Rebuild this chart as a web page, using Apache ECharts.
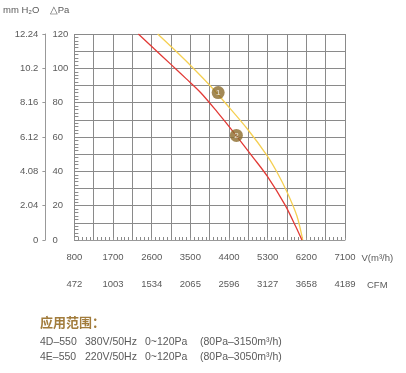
<!DOCTYPE html>
<html>
<head>
<meta charset="utf-8">
<script src="https://cdn.jsdelivr.net/npm/echarts@6/dist/echarts.min.js"></script>
<style>
html,body{margin:0;padding:0;background:#fff;}
#chart{width:406px;height:373px;}
</style>
</head>
<body>
<div id="chart"></div>
<script>
// ---- data ----
var vTickLabels = ['800','1700','2600','3500','4400','5300','6200','7100'];
var cfmTickLabels = ['472','1003','1534','2065','2596','3127','3658','4189'];
var paTickLabels = ['0','20','40','60','80','100','120'];
var mmTickLabels = ['0','2.04','4.08','6.12','8.16','10.2','12.24'];

var curve1V = [2739, 3100, 3510, 3955, 4360, 4823, 5286, 5518, 5750, 5981, 6116];
var curve1P = [120, 111.5, 101.5, 90, 78.5, 64.8, 49.2, 39.5, 28, 14, 0];
var curve2V = [2289, 2650, 3047, 3400, 3742, 4128, 4513, 4976, 5286, 5710, 5950, 6097];
var curve2P = [120, 111.5, 102.3, 94, 85.8, 74.5, 62.6, 47.6, 37.3, 20.2, 8, 0];

var markerV = [4147, 4571];
var markerP = [85.9, 60.9];
var markerText = ['1', '2'];

var noteTitle = '应用范围：';
var noteLines = [
  ['4D–550', '380V/50Hz', '0~120Pa', '(80Pa–3150m³/h)'],
  ['4E–550', '220V/50Hz', '0~120Pa', '(80Pa–3050m³/h)']
];

// ---- chart ----
var FONT = 'Liberation Sans';
var TXT = '#5a5a5a';
var GRID = '#8a8a8a';

function pairs(xs, ys){ return xs.map(function(x,i){ return [x, ys[i]]; }); }

var chart = echarts.init(document.getElementById('chart'), null, {renderer:'canvas'});

var graphics = [{
  type:'text', left: 40, top: 316,
  style:{ text: noteTitle, font: 'bold 13px "Noto Sans CJK SC"', fill:'#a27c3c' }
}];
var colX = [40, 85, 145, 200];
noteLines.forEach(function(parts, r){
  parts.forEach(function(p, c){
    graphics.push({
      type:'text', left: colX[c], top: 336.5 + r*15,
      style:{ text: p, font: '10.5px "Liberation Sans"', fill: TXT }
    });
  });
});

var option = {
  animation:false,
  grid:{ left:73, right:61, top:34, bottom:133, containLabel:false },
  xAxis:[{
    type:'value', min:800, max:7100, interval:450, position:'bottom',
    axisLine:{ show:false },
    axisTick:{ show:true, inside:true, length:3, lineStyle:{ color:GRID } },
    minorTick:{ show:true, splitNumber:5, length:3, lineStyle:{ color:GRID } },
    splitLine:{ show:true, lineStyle:{ color:GRID, width:1 } },
    axisLabel:{
      margin:12, color:TXT, fontFamily:FONT, fontSize:9.5,
      formatter:function(v, i){ return i % 2 === 0 ? (vTickLabels[i/2] || '') : ''; }
    },
    name:'V(m³/h)', nameLocation:'end', nameGap:15,
    nameTextStyle:{ color:TXT, fontFamily:FONT, fontSize:9.5, verticalAlign:'top', padding:[13,0,0,0] }
  },{
    type:'value', min:800, max:7100, interval:900, position:'bottom', offset:29,
    axisLine:{ show:true, lineStyle:{ color:'#999', width:1 } },
    axisTick:{ show:true, inside:true, length:2, lineStyle:{ color:'#999' } },
    splitLine:{ show:false },
    axisLabel:{
      margin:10, color:TXT, fontFamily:FONT, fontSize:9.5,
      formatter:function(v, i){ return cfmTickLabels[i] || ''; }
    },
    name:'CFM', nameLocation:'end', nameGap:22,
    nameTextStyle:{ color:TXT, fontFamily:FONT, fontSize:9.5, verticalAlign:'top', padding:[40,0,0,0] }
  }],
  yAxis:[{
    type:'value', min:0, max:120, interval:10, position:'left',
    axisLine:{ show:false },
    axisTick:{ show:true, inside:true, length:4, lineStyle:{ color:GRID } },
    minorTick:{ show:true, splitNumber:5, length:4, lineStyle:{ color:GRID } },
    splitLine:{ show:true, lineStyle:{ color:GRID, width:1 } },
    axisLabel:{
      margin:22, align:'left', color:TXT, fontFamily:FONT, fontSize:9.5,
      formatter:function(v, i){ return i % 2 === 0 ? (paTickLabels[i/2] || '') : ''; }
    },
    name:'△Pa', nameLocation:'end', nameGap:19,
    nameTextStyle:{ color:TXT, fontFamily:FONT, fontSize:9.5, align:'right', padding:[0,5,0,0] }
  },{
    type:'value', min:0, max:120, interval:20, position:'left', offset:29,
    axisLine:{ show:true, lineStyle:{ color:'#999', width:1 } },
    axisTick:{ show:true, inside:false, length:3, lineStyle:{ color:'#999' } },
    splitLine:{ show:false },
    axisLabel:{
      margin:7, color:TXT, fontFamily:FONT, fontSize:9.5,
      formatter:function(v, i){ return mmTickLabels[i] || ''; }
    },
    name:'mm H₂O', nameLocation:'end', nameGap:19,
    nameTextStyle:{ color:TXT, fontFamily:FONT, fontSize:9.5, align:'right', padding:[0,6,0,0] }
  }],
  series:[{
    type:'line', name:'1', data:pairs(curve1V, curve1P), smooth:0.3, showSymbol:false,
    lineStyle:{ color:'#f5cf52', width:1.3 }, z:3
  },{
    type:'line', name:'2', data:pairs(curve2V, curve2P), smooth:0.3, showSymbol:false,
    lineStyle:{ color:'#e23a36', width:1.3 }, z:3
  },{
    type:'scatter', data:pairs(markerV, markerP), symbolSize:13,
    itemStyle:{ color:'#8c6b2c' }, z:5,
    label:{ show:true, position:'inside', color:'#fff', fontSize:8, fontFamily:FONT,
      formatter:function(p){ return markerText[p.dataIndex]; } }
  }],
  graphic: graphics
};
chart.setOption(option);
</script>
</body>
</html>
